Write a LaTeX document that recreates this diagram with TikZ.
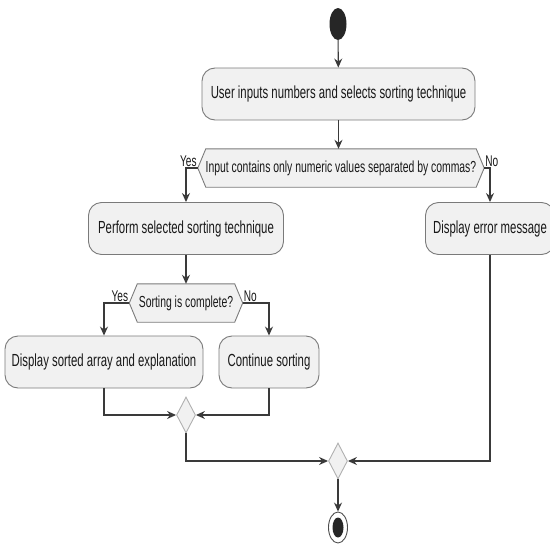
\documentclass[tikz,border=0pt]{standalone}
\usepackage{fontspec}
\setmainfont{Liberation Sans}[FakeStretch=0.65]
\usepackage{tikz}
\usetikzlibrary{positioning, calc}
\usetikzlibrary{arrows.meta}
\usetikzlibrary{shapes,backgrounds}
\definecolor{actfill}{HTML}{F1F1F1}
\definecolor{actline}{HTML}{7A7A7A}
\definecolor{flowline}{HTML}{3A3A3A}
\definecolor{mergeline}{HTML}{B0B0B0}

\begin{document}
\begin{tikzpicture}[x=1pt, y=-1pt, >={Stealth[length=9pt,width=8pt,inset=3pt]}]
	\useasboundingbox (0,0) rectangle (550,544);
	\def \colmid{338}
	\def \colleft{186}
	\def \rowone{94}
	\def \rowtwo{168}
	\def \rowthree{228.5}
	\def \rowfour{303}
	\def \rowfive{362}
	\tikzstyle{a-node}=[draw=actline, fill=actfill, rounded corners=13pt, line width=0.9pt, inner sep=0pt, minimum height=52pt, font=\fontsize{17.5}{19}\selectfont, text=black!90]
	\tikzstyle{d-node}=[inner sep=0pt, minimum height=38pt, font=\fontsize{16}{18}\selectfont, text=black!90]
	\tikzstyle{hexa}=[draw=actline, fill=actfill, line width=0.9pt]
	\tikzstyle{m-node}=[diamond, draw=mergeline, fill=actfill, line width=0.9pt, inner sep=0pt, minimum width=19pt, minimum height=36pt]
	\tikzstyle{lbl}=[inner sep=1pt, font=\fontsize{15.5}{17}\selectfont, text=black!90]
	\tikzstyle{flow}=[->, draw=flowline, line width=1.1pt]

	% start / end
	\node[ellipse, fill=black!85, inner sep=0pt, minimum width=17pt, minimum height=32pt] (start) at (\colmid,24) {};
	\node[ellipse, draw=black!70, fill=white, line width=0.9pt, inner sep=0pt, minimum width=19pt, minimum height=31pt] (stop) at (\colmid,527.5) {};
	\node[ellipse, fill=black!85, inner sep=0pt, minimum width=11pt, minimum height=20pt] (stopin) at (stop) {};

	% activities
	\node[a-node, minimum width=273pt] (input) at (338.5,\rowone) {User inputs numbers and selects sorting technique};
	\node[a-node, minimum width=195pt] (perform) at (\colleft,\rowthree) {Perform selected sorting technique};
	\node[a-node, minimum width=129pt] (error) at (490,\rowthree) {Display error message};
	\node[a-node, minimum width=198pt] (sorted) at (104,\rowfive) {Display sorted array and explanation};
	\node[a-node, minimum width=100pt] (cont) at (269,\rowfive) {Continue sorting};

	% decisions
	\node[d-node, minimum width=286pt] (check) at (341,\rowtwo) {Input contains only numeric values separated by commas?};
	\node[d-node, minimum width=113pt] (done) at (\colleft,\rowfour) {Sorting is complete?};
	\begin{pgfonlayer}{background}
		\foreach \d in {check,done}
			\draw[hexa] (\d.west) -- ([xshift=8pt]\d.north west) -- ([xshift=-8pt]\d.north east) -- (\d.east) -- ([xshift=-8pt]\d.south east) -- ([xshift=8pt]\d.south west) -- cycle;
	\end{pgfonlayer}
	\node[lbl, anchor=south east] (yes1) at (check.west) {Yes};
	\node[lbl, anchor=south west] (no1) at (check.east) {No};
	\node[lbl, anchor=south east] (yes2) at (done.west) {Yes};
	\node[lbl, anchor=south west] (no2) at (done.east) {No};

	% merges
	\node[m-node] (merge1) at (\colleft,415) {};
	\node[m-node] (merge2) at (\colmid,461) {};

	\draw[flow] (start) -- (input);
	\draw[flow] (input) -- (input.south |- check.north);
	\draw[flow] (check.west) -| (perform.north);
	\draw[flow] (check.east) -| (error.north);
	\draw[flow] (perform) -- (done);
	\draw[flow] (done.west) -| (sorted.north);
	\draw[flow] (done.east) -| (cont.north);
	\draw[flow] (sorted.south) |- (merge1.west);
	\draw[flow] (cont.south) |- (merge1.east);
	\draw[flow] (merge1.south) |- (merge2.west);
	\draw[flow] (error.south) |- (merge2.east);
	\draw[flow] (merge2) -- (stop);
\end{tikzpicture}
\end{document}
